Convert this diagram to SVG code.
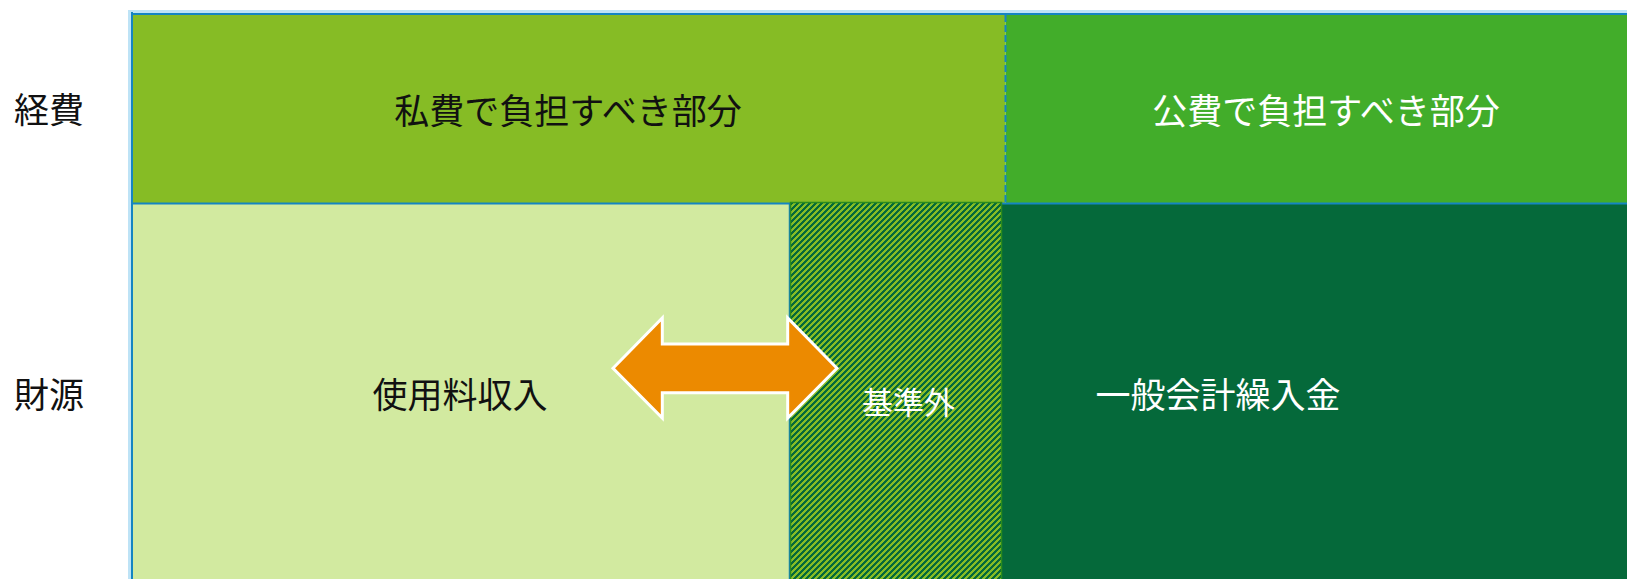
<svg xmlns="http://www.w3.org/2000/svg" width="1627" height="579" viewBox="0 0 1627 579">
<style>
.t{font-family:"Noto Sans CJK JP","Noto Sans",sans-serif;font-size:35px;text-anchor:middle}
.k{fill:#111111}
.w{fill:#ffffff}
.blue{stroke:#1585C2;stroke-width:2;fill:none}
.d{fill:#05693A}
</style>
<defs>
<pattern id="hatch" patternUnits="userSpaceOnUse" x="0" y="0" width="6" height="6" shape-rendering="crispEdges">
<rect width="6" height="6" fill="#86BC25"/>
<rect class="d" x="3" y="0" width="3" height="1"/>
<rect class="d" x="2" y="1" width="3" height="1"/>
<rect class="d" x="1" y="2" width="3" height="1"/>
<rect class="d" x="0" y="3" width="3" height="1"/>
<rect class="d" x="5" y="4" width="1" height="1"/>
<rect class="d" x="0" y="4" width="2" height="1"/>
<rect class="d" x="4" y="5" width="2" height="1"/>
<rect class="d" x="0" y="5" width="1" height="1"/>
</pattern>
</defs>
<g id="frame">
<rect x="129.5" y="11.5" width="1510" height="580" fill="none" stroke="#BEE3F6" stroke-width="3"/>
</g>
<g id="private-cost">
<rect x="132" y="14" width="873.5" height="189.5" fill="#86BC25"/>
<text class="t k" x="568" y="124">私費で負担すべき部分</text>
</g>
<g id="public-cost">
<rect x="1005.5" y="14" width="630" height="189.5" fill="#42AD2A"/>
<text class="t w" x="1326" y="124">公費で負担すべき部分</text>
</g>
<g id="usage-fee">
<rect x="132" y="203.5" width="658" height="380" fill="#D2EAA0"/>
<text class="t k" x="460" y="408">使用料収入</text>
</g>
<g id="general-account">
<rect x="1002" y="204" width="630" height="380" fill="#05693A"/>
<text class="t w" x="1218" y="408">一般会計繰入金</text>
</g>
<g id="lines">
<line class="blue" x1="132" y1="12" x2="132" y2="579"/>
<line class="blue" x1="131" y1="14" x2="1627" y2="14"/>
<line class="blue" x1="131" y1="203.5" x2="1627" y2="203.5"/>
<line x1="1005.5" y1="15" x2="1005.5" y2="203" stroke="#1585C2" stroke-width="2" stroke-dasharray="7,3"/>
<line x1="789.5" y1="203" x2="789.5" y2="579" stroke="#1585C2" stroke-width="1.5"/>
</g>
<g id="outside-standard">
<rect x="790.5" y="202.5" width="211" height="380" fill="url(#hatch)" stroke="#2A8A1E" stroke-width="1.5"/>
<text class="t w" x="908.5" y="414" style="font-size:31px">基準外</text>
</g>
<g id="connectors">
<polygon points="613,368.3 662.3,318 662.3,344 787.7,344 787.7,318 837,368.3 787.7,418 787.7,392.7 662.3,392.7 662.3,418" fill="#EC8A00" stroke="#ffffff" stroke-width="3" stroke-linejoin="miter"/>
</g>
<g id="row-labels">
<text class="t k" x="49" y="123">経費</text>
<text class="t k" x="49" y="408">財源</text>
</g>
</svg>
